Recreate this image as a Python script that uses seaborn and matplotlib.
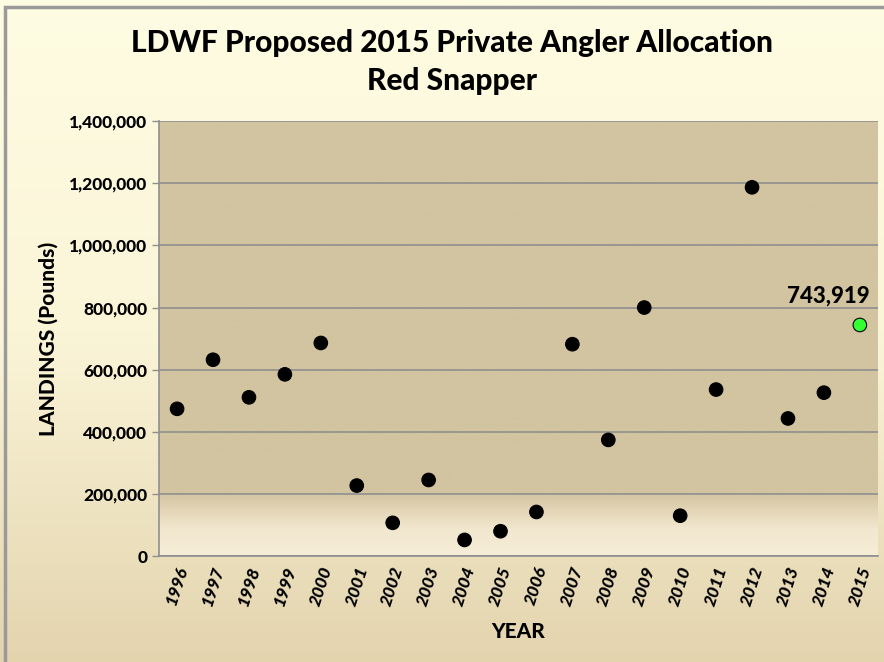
import numpy as np
import pandas as pd
import matplotlib
matplotlib.use("Agg")
import matplotlib.pyplot as plt
import seaborn as sns
from matplotlib.colors import LinearSegmentedColormap
from matplotlib.patches import Rectangle

years = [str(y) for y in range(1996, 2016)]
landings = [474000, 632000, 511000, 585000, 686000, 227000, 107000, 245000,
            52000, 80000, 142000, 682000, 374000, 800000, 130000, 536000,
            1187000, 443000, 526000, 743919]
point_colors = ["black"] * 19 + ["#33FF33"]

df = pd.DataFrame({"year": years, "landings": landings, "pos": range(len(years))})

sns.set_style("white")
plt.rcParams['font.family'] = ['Lato', 'DejaVu Sans']
plt.rcParams['text.color'] = 'black'
plt.rcParams['axes.labelcolor'] = 'black'
plt.rcParams['xtick.color'] = 'black'
plt.rcParams['ytick.color'] = 'black'

fig = plt.figure(figsize=(8.84, 6.62), dpi=100)

# figure background gradient
bg = fig.add_axes([0, 0, 1, 1], zorder=-10)
bg_cmap = LinearSegmentedColormap.from_list("bg", ["#FEFCE2", "#FBF5D8", "#E3D4AE"])
bg.imshow(np.linspace(0, 1, 256).reshape(-1, 1), aspect="auto", cmap=bg_cmap,
          extent=[0, 1, 0, 1])
bg.set_axis_off()
fig.patches.append(Rectangle((0.006, -0.01), 1.1, 1.0, transform=fig.transFigure,
                             fill=False, edgecolor="#9A9A9A", lw=2.5))

ax = fig.add_axes([0.180, 0.160, 0.813, 0.657])

# plot area gradient (dark tan on top, lighter near the bottom)
pa_cmap = LinearSegmentedColormap.from_list(
    "pa", [(0, "#F6EDD8"), (0.06, "#F2E7CF"), (0.10, "#E4D7B8"), (0.145, "#D2C4A0"), (1, "#D2C4A0")])
ax.imshow(np.linspace(0, 1, 512).reshape(-1, 1), aspect="auto", cmap=pa_cmap,
          extent=[0, 1, 0, 1], origin="lower", transform=ax.transAxes, zorder=0)

sns.scatterplot(data=df, x="pos", y="landings", hue="year", palette=point_colors,
                s=95, edgecolor="black", linewidth=0.8, legend=False, ax=ax, zorder=3)

ax.set_xlim(-0.5, len(years) - 0.5)
ax.set_ylim(0, 1400000)
ax.set_yticks(range(0, 1400001, 200000))
ax.set_yticklabels([f"{v:,}" for v in range(0, 1400001, 200000)],
                   fontsize=12.5, fontweight="black")
ax.yaxis.grid(True, color="#8F8F8F", lw=1.2)
ax.set_axisbelow(False)
for line in ax.get_ygridlines():
    line.set_zorder(1)

ax.set_xticks(range(len(years)))
ax.set_xticklabels(years, rotation=72, fontsize=12.5, fontweight="black", style="italic")
ax.set_xticks(np.arange(-0.5, len(years)), minor=True)
ax.tick_params(axis="x", which="major", length=0, pad=6)
ax.tick_params(axis="x", which="minor", length=5, color="#8F8F8F", width=1)
ax.tick_params(axis="y", length=5, color="#8F8F8F", width=1, left=True, labelcolor="black")

for side in ["top", "right"]:
    ax.spines[side].set_visible(False)
for side in ["left", "bottom"]:
    ax.spines[side].set_color("#8F8F8F")
    ax.spines[side].set_linewidth(1.2)

ax.set_xlabel("YEAR", fontsize=15, fontweight="black", labelpad=10)
ax.set_ylabel("LANDINGS (Pounds)", fontsize=15, fontweight="black", labelpad=8)

ax.annotate(f"{landings[-1]:,}", xy=(len(years) - 1, landings[-1]), xytext=(7, 13),
            textcoords="offset points", ha="right", va="bottom",
            fontsize=16, fontweight="black")

fig.text(0.511, 0.935, "LDWF Proposed 2015 Private Angler Allocation",
         ha="center", va="center", fontsize=21.5, fontweight="black")
fig.text(0.511, 0.878, "Red Snapper", ha="center", va="center",
         fontsize=21.5, fontweight="black")

fig.savefig("out.png", dpi=100)
